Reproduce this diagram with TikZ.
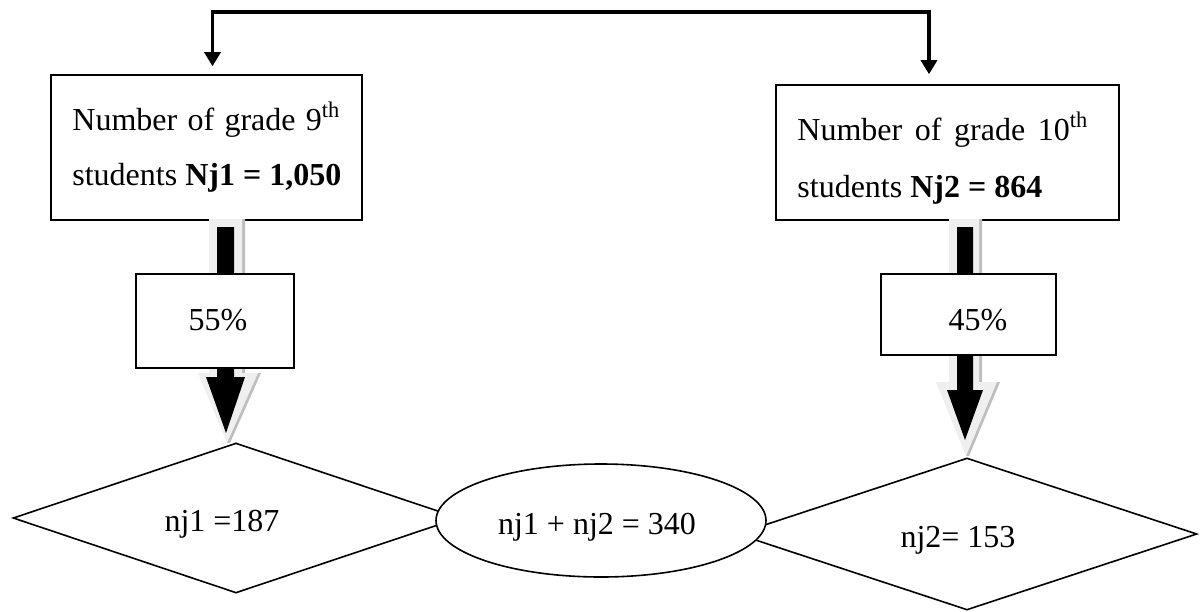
\documentclass[tikz,border=0pt]{standalone}
\usepackage{fontspec}
\setmainfont{Liberation Serif}
\usetikzlibrary{shapes.geometric,arrows.meta,calc}
\definecolor{arrowlight}{HTML}{EFEFEF}
\definecolor{arrowshade}{HTML}{BEBEBE}
\tikzset{
  boxshape/.style={draw,line width=0.8pt,fill=white,inner sep=0pt},
  txt/.style={inner sep=0pt,anchor=base,font=\fontsize{16}{19}\selectfont},
  txtl/.style={txt,anchor=base west},
  link/.style={line width=1.6pt,{Triangle[width=8pt,length=7pt]}-{Triangle[width=8pt,length=7pt]}},
  blkout/.style={fill=arrowlight},
  blkshade/.style={fill=arrowshade},
  blkin/.style={fill=black}
}
\begin{document}
\begin{tikzpicture}[x=0.5pt,y=-0.5pt]
\useasboundingbox (0,0) rectangle (1204,611);
% top boxes
\node[boxshape,minimum width=155.5pt,minimum height=72.5pt] (b1) at (206.5,147.5) {};
\node[boxshape,minimum width=171.5pt,minimum height=67.5pt] (b2) at (947.5,152.5) {};
\node[txtl] (b1l1) at (72,130) {\makebox[134pt][s]{Number of grade 9\textsuperscript{th}}};
\node[txtl] (b1l2) at (72,185) {students \textbf{Nj1 = 1,050}};
\node[txtl] (b2l1) at (797,140) {\makebox[145.5pt][s]{Number of grade 10\textsuperscript{th}}};
\node[txtl] (b2l2) at (797,197) {students \textbf{Nj2 = 864}};
% top connector
\coordinate (top) at (0,12);
\coordinate (c1) at ($(b1.north)+(6,-8)$);
\coordinate (c2) at ($(b2.north)+(-18.5,-10)$);
\draw[link] (c1) -- (c1 |- top) -- (c2 |- top) -- (c2);
% bottom shapes
\node[draw,diamond,line width=0.8pt,fill=white,inner sep=0pt,minimum width=223pt,minimum height=75pt] (d1) at (236,518) {};
\node[draw,diamond,line width=0.8pt,fill=white,inner sep=0pt,minimum width=230pt,minimum height=76pt] (d2) at (967,534) {};
\node[draw,ellipse,line width=0.8pt,fill=white,inner sep=0pt,minimum width=165pt,minimum height=56.5pt] (e) at (601,520.5) {};
\node[txt] (d1t) at (222,531) {nj1 =187};
\node[txt] (d2t) at (958,547) {nj2= 153};
\node[txt] (et) at (597,534) {nj1 + nj2 = 340};
% left block arrow
\fill[blkshade] (212,219) -- (245,219) -- (245,373) -- (261,373) -- (230,443) -- (227,443) -- (242,373) -- (242,219) -- cycle;
\fill[blkout] (209,219) -- (242,219) -- (242,373) -- (258,373) -- (227,443) -- (198,373) -- (209,373) -- cycle;
\fill[blkin] (217,227) -- (234,227) -- (234,377) -- (245,377) -- (226,433) -- (206,377) -- (217,377) -- cycle;
% right block arrow
\fill[blkshade] (952,219) -- (982,219) -- (982,382) -- (1000,382) -- (969,456) -- (966,456) -- (979,382) -- (979,219) -- cycle;
\fill[blkout] (949,219) -- (979,219) -- (979,382) -- (997,382) -- (966,456) -- (936,382) -- (949,382) -- cycle;
\fill[blkin] (957,227) -- (973,227) -- (973,390) -- (983,390) -- (965,440) -- (947,390) -- (957,390) -- cycle;
% percent boxes
\node[boxshape,minimum width=79pt,minimum height=47pt] (p1) at (215,321) {};
\node[boxshape,minimum width=87.5pt,minimum height=40.5pt] (p2) at (968.5,314.5) {};
\node[txt] (p1t) at (218,330) {55\%};
\node[txt] (p2t) at (978,330) {45\%};
\end{tikzpicture}
\end{document}
